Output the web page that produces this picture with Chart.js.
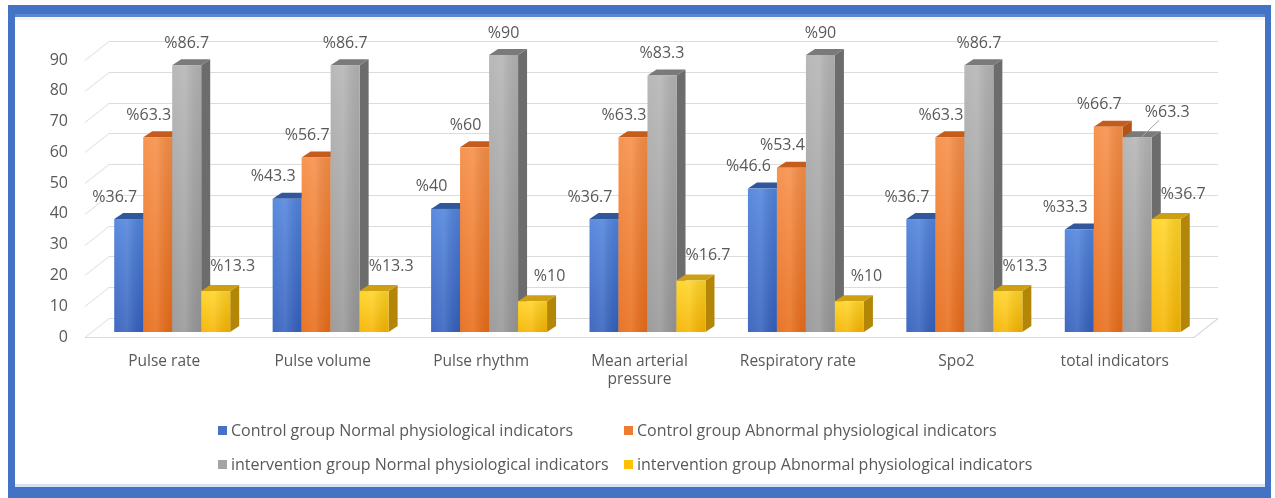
<!DOCTYPE html>
<html>
<head>
<meta charset="utf-8">
<script src="https://cdn.jsdelivr.net/npm/chart.js@4/dist/chart.umd.min.js"></script>
<style>
  html, body { margin: 0; padding: 0; background: #ffffff; }
  #wrap { width: 1275px; height: 498px; position: relative; }
  canvas { display: block; }
</style>
</head>
<body>
<div id="wrap"><canvas id="c" width="1275" height="498"></canvas></div>
<script>
// Categories and series (percentages)
const categories = [
  'Pulse rate', 'Pulse volume', 'Pulse rhythm', ['Mean arterial', 'pressure'],
  'Respiratory rate', 'Spo2', 'total indicators'
];
const controlNormal       = [36.7, 43.3, 40, 36.7, 46.6, 36.7, 33.3];
const controlAbnormal     = [63.3, 56.7, 60, 63.3, 53.4, 63.3, 66.7];
const interventionNormal  = [86.7, 86.7, 90, 83.3, 90, 86.7, 63.3];
const interventionAbnormal= [13.3, 13.3, 10, 16.7, 10, 13.3, 36.7];
const seriesNames = [
  'Control group Normal physiological indicators',
  'Control group Abnormal physiological indicators',
  'intervention group Normal physiological indicators',
  'intervention group Abnormal physiological indicators'
];
const yTicks = [0, 10, 20, 30, 40, 50, 60, 70, 80, 90];

// Face colours for the pseudo-3D columns
const palette = [
  { ft: '#5183dc', fb: '#3460bd', top: '#30569c', side: '#2a4c8c', key: '#4472c4' },
  { ft: '#f68e47', fb: '#e86c19', top: '#c65c1b', side: '#b55316', key: '#ed7d31' },
  { ft: '#b4b4b4', fb: '#979797', top: '#7a7a7a', side: '#6c6c6c', key: '#a5a5a5' },
  { ft: '#ffd426', fb: '#f6b400', top: '#cf9f12', side: '#b38608', key: '#ffc000' }
];

const TEXT = '#595959';
const FONT = '"Open Sans", "Liberation Sans", sans-serif';
const depth = { dx: 9, dy: 6 };     // bar depth
const shift = { x: 8, y: -5 };      // bars sit slightly behind the front plane
const wall = { dx: 24, dy: 19 };    // back-wall offset of the grid
const labelDX = [-14, -9, 0, 17];   // spread of value labels per series

const framePlugin = {
  id: 'frame',
  beforeDraw(chart) {
    const c = chart.ctx;
    c.save();
    c.fillStyle = '#ffffff';
    c.fillRect(0, 0, chart.width, chart.height);
    c.fillStyle = '#4472c4';
    c.fillRect(8, 5, 1263, 12);      // top
    c.fillRect(8, 5, 7, 493);        // left
    c.fillRect(1265, 5, 6, 493);     // right
    c.fillRect(8, 487, 1263, 11);    // bottom
    c.fillStyle = '#5a86d2';
    c.fillRect(15, 14, 1250, 3);
    c.fillStyle = '#fcf3e8';
    c.fillRect(15, 17, 1250, 3);
    c.fillStyle = '#d4e3f4';
    c.fillRect(15, 484, 1250, 3);
    c.restore();
  }
};

const gridPlugin = {
  id: 'wallGrid',
  beforeDatasetsDraw(chart) {
    const c = chart.ctx, y = chart.scales.y, a = chart.chartArea;
    c.save();
    c.lineWidth = 1.2;
    yTicks.forEach(v => {
      const py = Math.round(y.getPixelForValue(v)) + 0.5;
      c.strokeStyle = '#e8e8e8';
      c.beginPath();
      c.moveTo(a.left, py);
      c.lineTo(a.left + wall.dx, py - wall.dy);
      c.stroke();
      c.strokeStyle = '#dcdcdc';
      c.beginPath();
      c.moveTo(a.left + wall.dx, py - wall.dy);
      c.lineTo(a.right + wall.dx, py - wall.dy);
      c.stroke();
    });
    // floor front edge
    const p0 = Math.round(y.getPixelForValue(0)) + 0.5;
    c.strokeStyle = '#d9d9d9';
    c.beginPath();
    c.moveTo(a.left, p0);
    c.lineTo(a.right, p0);
    c.lineTo(a.right + wall.dx, p0 - wall.dy);
    c.stroke();
    c.restore();
  }
};

function poly(c, pts, fill) {
  c.beginPath();
  c.moveTo(pts[0][0], pts[0][1]);
  for (let i = 1; i < pts.length; i++) c.lineTo(pts[i][0], pts[i][1]);
  c.closePath();
  c.fillStyle = fill;
  c.fill();
}

const bars3dPlugin = {
  id: 'bars3d',
  afterDatasetsDraw(chart) {
    const c = chart.ctx;
    const metas = chart.data.datasets.map((d, i) => chart.getDatasetMeta(i));
    const n = chart.data.labels.length;
    c.save();
    for (let j = 0; j < n; j++) {
      metas.forEach((m, i) => {
        const el = m.data[j];
        const x0 = el.x - el.width / 2 + shift.x, x1 = x0 + el.width;
        const top = el.y + shift.y, base = el.base + shift.y;
        const p = palette[i];
        poly(c, [[x1, top], [x1 + depth.dx, top - depth.dy], [x1 + depth.dx, base - depth.dy], [x1, base]], p.side);
        poly(c, [[x0, top], [x0 + depth.dx, top - depth.dy], [x1 + depth.dx, top - depth.dy], [x1, top]], p.top);
        const g = c.createLinearGradient(0, top, 0, base);
        g.addColorStop(0, p.ft);
        g.addColorStop(1, p.fb);
        c.fillStyle = g;
        c.fillRect(x0, top, el.width, base - top);
        // soft vertical sheen on the front face
        const h = c.createLinearGradient(x0, 0, x1, 0);
        h.addColorStop(0, 'rgba(255,255,255,0.06)');
        h.addColorStop(0.45, 'rgba(255,255,255,0.12)');
        h.addColorStop(1, 'rgba(0,0,0,0.06)');
        c.fillStyle = h;
        c.fillRect(x0, top, el.width, base - top);
      });
    }
    c.restore();
  }
};

const valueLabelPlugin = {
  id: 'valueLabels',
  afterDraw(chart) {
    const c = chart.ctx;
    c.save();
    c.font = '16px ' + FONT;
    c.fillStyle = TEXT;
    c.textAlign = 'center';
    c.textBaseline = 'middle';
    const last = chart.data.labels.length - 1;
    chart.data.datasets.forEach((ds, i) => {
      const m = chart.getDatasetMeta(i);
      m.data.forEach((el, j) => {
        const cx = el.x + shift.x;
        const top = el.y + shift.y;
        let lx = cx + labelDX[i], ly = top - 22;
        if (i === 3) ly = top - 25;
        if (i === 2 && j === last) {
          // label pulled up-right with a leader line
          lx = cx + 30; ly = top - 25;
          c.strokeStyle = '#a6a6a6';
          c.lineWidth = 1;
          c.beginPath();
          c.moveTo(cx + 3, top + 1);
          c.lineTo(lx - 8, ly + 8);
          c.stroke();
        }
        c.fillText('%' + ds.data[j], lx, ly);
      });
    });
    c.restore();
  }
};

const legendPlugin = {
  id: 'gridLegend',
  afterDraw(chart) {
    const c = chart.ctx;
    const cols = [218, 624], rows = [431, 465];
    c.save();
    c.font = '16px ' + FONT;
    c.textBaseline = 'middle';
    c.textAlign = 'left';
    seriesNames.forEach((name, i) => {
      const x = cols[i % 2], y = rows[Math.floor(i / 2)];
      c.fillStyle = palette[i].key;
      c.fillRect(x, y - 5, 9, 9);
      c.fillStyle = TEXT;
      c.fillText(name, x + 13, y);
    });
    c.restore();
  }
};

const series = [controlNormal, controlAbnormal, interventionNormal, interventionAbnormal];

new Chart(document.getElementById('c'), {
  type: 'bar',
  data: {
    labels: categories,
    datasets: series.map((vals, i) => ({
      label: seriesNames[i],
      data: vals,
      backgroundColor: 'rgba(0,0,0,0)',
      borderWidth: 0,
      categoryPercentage: 0.732,
      barPercentage: 1
    }))
  },
  options: {
    responsive: false,
    animation: false,
    layout: { padding: { left: 0, right: 81, top: 60, bottom: 0 } },
    plugins: {
      legend: { display: false },
      tooltip: { enabled: false }
    },
    scales: {
      x: {
        grid: { display: false, drawTicks: false },
        border: { display: false },
        ticks: {
          color: TEXT,
          font: { family: FONT, size: 15.5 },
          padding: 15,
          maxRotation: 0,
          autoSkip: false
        },
        afterFit(s) { s.height = 161; }
      },
      y: {
        min: 0,
        max: 90,
        grid: { display: false, drawTicks: false },
        border: { display: false },
        afterBuildTicks(s) { s.ticks = yTicks.map(v => ({ value: v })); },
        ticks: {
          color: TEXT,
          font: { family: FONT, size: 16 },
          padding: 17
        },
        afterFit(s) { s.width = 85; }
      }
    }
  },
  plugins: [framePlugin, gridPlugin, bars3dPlugin, valueLabelPlugin, legendPlugin]
});
</script>
</body>
</html>
